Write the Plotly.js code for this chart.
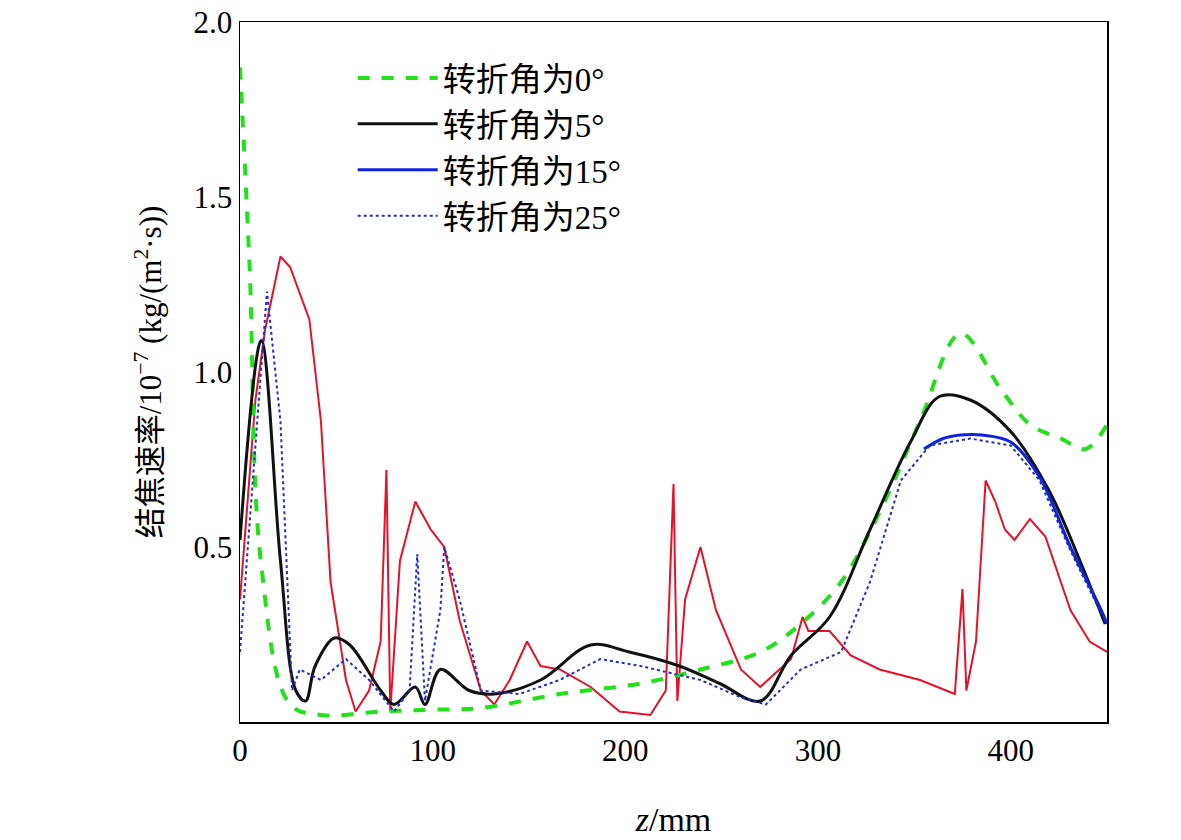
<!DOCTYPE html>
<html><head><meta charset="utf-8">
<script src="https://cdn.plot.ly/plotly-3.0.1.min.js"></script>
<style>body{margin:0;background:#fff}#chart{width:1181px;height:840px}</style>
</head><body><div id="chart"></div>
<script>
// values
const x0 = [0, 5, 11, 26, 42, 73, 99, 125, 166, 208, 239, 270, 291, 312, 332, 353, 374, 395, 410, 426, 439, 450];
const y0 = [1.87, 1.3, 0.45, 0.05, 0.02, 0.03, 0.035, 0.04, 0.08, 0.11, 0.15, 0.2, 0.28, 0.4, 0.6, 0.86, 1.11, 0.95, 0.85, 0.81, 0.78, 0.85];

const x5 = [0, 11, 21, 29, 34, 39, 49, 57, 73, 80, 91, 96, 104, 119, 132, 156, 182, 202, 228, 249, 270, 286, 306, 327, 348, 363, 379, 400, 420, 436, 449];
const y5 = [0.52, 1.09, 0.46, 0.09, 0.06, 0.16, 0.24, 0.22, 0.09, 0.05, 0.1, 0.05, 0.15, 0.09, 0.08, 0.12, 0.22, 0.2, 0.16, 0.11, 0.06, 0.19, 0.3, 0.55, 0.8, 0.93, 0.92, 0.83, 0.66, 0.46, 0.28];

const x15 = [355, 365, 374, 385, 400, 415, 431, 447, 450];
const y15 = [0.78, 0.81, 0.82, 0.82, 0.8, 0.7, 0.5, 0.32, 0.28];

const x25 = [0, 14, 21, 27, 31, 42, 55, 67, 80, 88, 92, 96, 104, 106, 114, 125, 145, 166, 187, 208, 239, 260, 273, 291, 312, 327, 343, 358, 379, 400, 415, 431, 447];
const y25 = [0.2, 1.23, 0.86, 0.09, 0.15, 0.12, 0.18, 0.12, 0.03, 0.09, 0.48, 0.06, 0.32, 0.5, 0.35, 0.09, 0.08, 0.12, 0.18, 0.16, 0.12, 0.07, 0.05, 0.15, 0.2, 0.4, 0.69, 0.79, 0.81, 0.79, 0.69, 0.49, 0.31];

const xRed = [0, 8, 13, 16, 21, 26, 36, 42, 47, 55, 60, 67, 73, 76, 78, 83, 91, 99, 106, 114, 125, 132, 140, 149, 156, 166, 182, 197, 213, 221, 225, 227, 231, 239, 247, 260, 270, 286, 292, 295, 306, 317, 332, 353, 371, 375, 377, 382, 387, 392, 397, 402, 410, 418, 431, 441, 450];
const yRed = [0.35, 0.92, 1.12, 1.2, 1.33, 1.3, 1.15, 0.86, 0.4, 0.12, 0.03, 0.09, 0.23, 0.72, 0.03, 0.46, 0.63, 0.55, 0.5, 0.29, 0.09, 0.05, 0.12, 0.23, 0.16, 0.15, 0.1, 0.03, 0.02, 0.09, 0.68, 0.06, 0.35, 0.5, 0.32, 0.15, 0.1, 0.18, 0.3, 0.26, 0.26, 0.19, 0.15, 0.12, 0.08, 0.38, 0.09, 0.23, 0.69, 0.63, 0.55, 0.52, 0.58, 0.53, 0.32, 0.23, 0.2];

const names = ['转折角为0°', '转折角为5°', '转折角为15°', '转折角为25°'];

const traces = [
  {x: xRed, y: yRed, mode: 'lines', line: {color: '#e8102a', width: 2}, showlegend: false},
  {x: x0, y: y0, name: names[0], mode: 'lines', line: {color: '#22e01a', width: 4, dash: 'dash', shape: 'spline'}},
  {x: x5, y: y5, name: names[1], mode: 'lines', line: {color: '#111', width: 3, shape: 'spline'}},
  {x: x15, y: y15, name: names[2], mode: 'lines', line: {color: '#1020e0', width: 3, shape: 'spline'}},
  {x: x25, y: y25, name: names[3], mode: 'lines', line: {color: '#2030c0', width: 2, dash: 'dot'}}
];

const font = {family: 'Liberation Serif, Noto Sans CJK SC, serif', size: 31, color: '#000'};
const layout = {
  width: 1181, height: 840,
  margin: {l: 240, r: 74, t: 22, b: 118},
  font: font,
  plot_bgcolor: '#fff', paper_bgcolor: '#fff',
  xaxis: {range: [0, 450], tickvals: [0, 100, 200, 300, 400], showgrid: false, zeroline: false,
          showline: true, mirror: true, linecolor: '#000', linewidth: 1.5,
          title: {text: '<i>z</i>/mm', font: {size: 34}, standoff: 40}},
  yaxis: {range: [0, 2.0], tickvals: [0.5, 1.0, 1.5, 2.0], ticktext: ['0.5', '1.0', '1.5', '2.0'],
          showgrid: false, zeroline: false, showline: true, mirror: true, linecolor: '#000', linewidth: 1.5,
          title: {text: '结焦速率/10<sup>−7</sup> (kg/(m<sup>2</sup>·s))', font: {size: 31}, standoff: 22}},
  legend: {x: 0.13, y: 0.96, xanchor: 'left', yanchor: 'top', bgcolor: 'rgba(0,0,0,0)',
           font: {size: 33}, tracegroupgap: 0, itemwidth: 80}
};

Plotly.newPlot('chart', traces, layout, {displayModeBar: false, staticPlot: true});
</script>
</body></html>
